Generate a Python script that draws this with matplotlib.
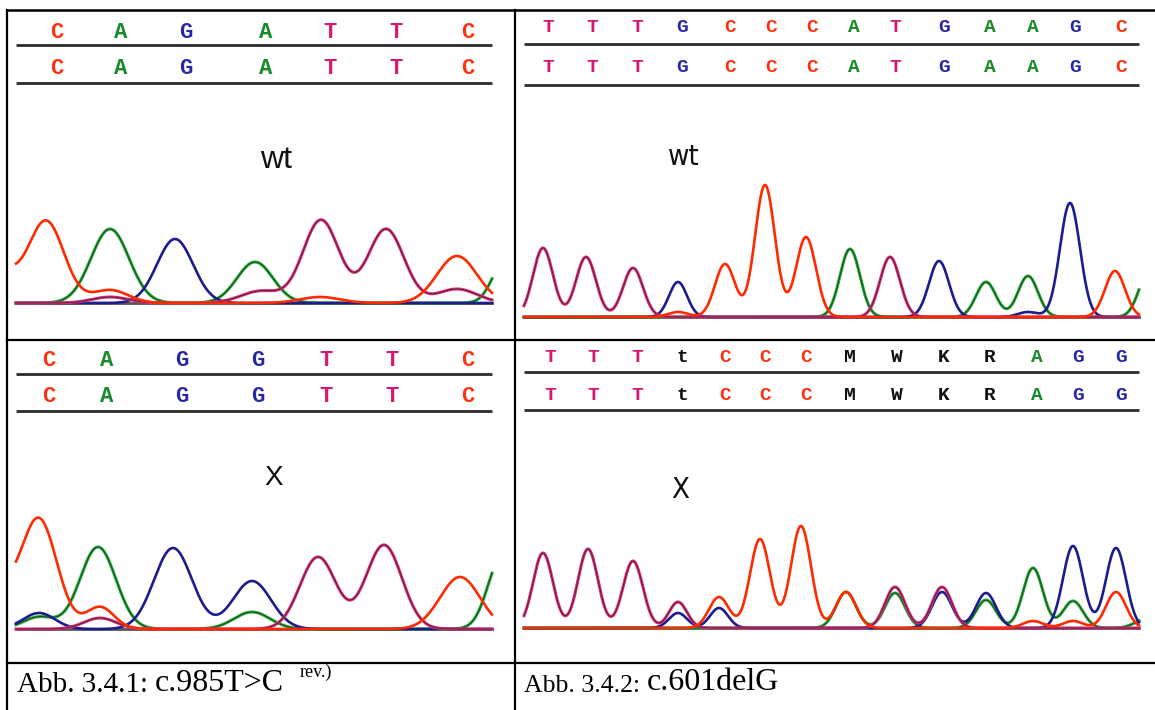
import numpy as np
import matplotlib.pyplot as plt

W, H = 1155, 710

# ---- Daten: Basen und Peaks (Position, Hoehe, Breite) je Panel ----
# Abb. 3.4.1 oben (wt)
tl_basen = ['C', 'A', 'G', 'A', 'T', 'T', 'C']
tl_basen_pos = [41, 105, 170, 250, 314, 380, 452]
tl_A = [(94, 74, 19), (239, 41, 18), (488, 40, 12)]
tl_C = [(-22, 40, 18), (30, 82, 18), (94, 13, 18), (304, 6, 20), (441, 47, 20)]
tl_G = [(159, 64, 18)]
tl_T = [(94, 6, 18), (245, 12, 20), (305, 83, 18), (370, 74, 18), (441, 14, 20)]

# Abb. 3.4.1 unten (X)
bl_basen = ['C', 'A', 'G', 'G', 'T', 'T', 'C']
bl_basen_pos = [33, 91, 166, 242, 310, 376, 452]
bl_A = [(23, 12, 16), (82, 82, 18), (236, 17, 18), (486, 72, 14)]
bl_C = [(-26, 45, 20), (23, 109, 18), (84, 22, 14), (444, 52, 20)]
bl_G = [(23, 16, 16), (157, 81, 19), (236, 48, 19)]
bl_T = [(84, 11, 16), (302, 72, 18), (368, 84, 18)]

# Abb. 3.4.2 oben (wt)
tr_basen = ['T', 'T', 'T', 'G', 'C', 'C', 'C', 'A', 'T', 'G', 'A', 'A', 'G', 'C']
tr_basen_pos = [24, 68, 113, 158, 206, 247, 288, 330, 371, 420, 466, 509, 551, 597]
tr_A = [(326, 68, 10), (462, 35, 10), (504, 41, 10), (625, 45, 10)]
tr_C = [(154, 5, 10), (201, 53, 10), (241, 132, 10), (282, 80, 10), (591, 46, 10)]
tr_G = [(154, 35, 9), (415, 56, 10), (504, 5, 10), (546, 114, 10)]
tr_T = [(19, 69, 10), (62, 60, 10), (109, 49, 10), (366, 60, 10)]

# Abb. 3.4.2 unten (X)
br_basen = ['T', 'T', 'T', 't', 'C', 'C', 'C', 'M', 'W', 'K', 'R', 'A', 'G', 'G']
br_basen_pos = [26, 69, 113, 158, 201, 241, 282, 326, 373, 420, 466, 513, 554, 597]
br_A = [(322, 36, 10), (371, 35, 10), (462, 28, 10), (509, 60, 10), (549, 27, 10), (620, 8, 10)]
br_C = [(195, 31, 10), (236, 89, 10), (277, 102, 10), (322, 36, 10), (509, 7, 10),
        (549, 7, 10), (592, 36, 10)]
br_G = [(154, 15, 9), (195, 20, 9), (418, 36, 10), (462, 35, 10), (549, 82, 10), (592, 80, 10)]
br_T = [(19, 75, 10), (64, 79, 10), (109, 67, 10), (154, 26, 9), (371, 41, 10), (418, 41, 10)]

caption_1 = ['Abb. 3.4.1: ', 'c.985T>C', 'rev.)']
caption_2 = ['Abb. 3.4.2: ', 'c.601delG']

farbe = {'A': '#23a834', 'C': '#ff2a00', 'G': '#1c1c8c', 'T': '#dc2c78'}
schrift = {'A': '#1a8a2a', 'C': '#ff3010', 'G': '#2626a6', 'T': '#d81870'}


def spur(x, peaks):
    y = np.zeros_like(x)
    for m, h, s in peaks:
        y += h * np.exp(-0.5 * ((x - m) / s) ** 2)
    return y


def panel(cell, x0, x1, base, rows, lines, basen, pos, spuren, label, lab_xy,
          fs_bas, lab_font):
    cx0, cy0, cx1, cy1 = cell
    ax = fig.add_axes([cx0 / W, 1 - cy1 / H, (cx1 - cx0) / W, (cy1 - cy0) / H])
    ax.set_xlim(cx0 - x0, cx1 - x0)
    ax.set_ylim(base - cy1, base - cy0)
    ax.axis('off')
    n = x1 - x0
    for ly in lines:
        ax.plot([0, n], [base - ly, base - ly], color='#2b2b2b', lw=2.0,
                solid_capstyle='butt')
    for ry in rows:
        for b, p in zip(basen, pos):
            ax.text(p, base - ry, b, color=schrift.get(b, '#111111'),
                    fontsize=fs_bas, fontweight='bold', family='Liberation Mono',
                    ha='center', va='center')
    ax.text(lab_xy[0], base - lab_xy[1], label, fontsize=lab_font[0],
            family=lab_font[1], fontstretch=lab_font[2], ha='center', va='center',
            color='#111111')
    x = np.linspace(0, n, 1200)
    ax.plot([0, n], [0, 0], color='#555555', lw=2.0)
    for k in ['A', 'G', 'T', 'C']:
        y = spur(x, spuren[k])
        if k in ('A', 'T'):
            ax.plot(x, y, color=farbe[k], lw=2.2)
            ax.plot(x, y, color='#202020', lw=0.6, alpha=0.8)
        else:
            ax.plot(x, y, color=farbe[k], lw=1.9)
    return ax


fig = plt.figure(figsize=(W / 100, H / 100), dpi=100)

# Rahmen der Tabelle
bg = fig.add_axes([0, 0, 1, 1])
bg.set_xlim(0, W)
bg.set_ylim(H, 0)
bg.axis('off')
bg.plot([7, W], [10, 10], color='black', lw=1.8)
bg.plot([7, W], [340, 340], color='black', lw=1.6)
bg.plot([7, W], [663, 663], color='black', lw=1.6)
bg.plot([7, 7], [10, H], color='black', lw=1.6)
bg.plot([515, 515], [10, H], color='black', lw=1.6)

panel((8, 11, 514, 339), 16, 492, 303, [32, 68], [45, 83], tl_basen, tl_basen_pos,
      {'A': tl_A, 'C': tl_C, 'G': tl_G, 'T': tl_T}, 'wt', (260, 160), 16,
      (23, 'Liberation Sans', 'normal'))
panel((8, 341, 514, 662), 16, 492, 629, [360, 396], [374, 411], bl_basen, bl_basen_pos,
      {'A': bl_A, 'C': bl_C, 'G': bl_G, 'T': bl_T}, 'X', (258, 478), 16,
      (20, 'Liberation Sans', 'normal'))
panel((516, 11, 1155, 339), 524, 1139, 317, [28, 68], [44, 85], tr_basen, tr_basen_pos,
      {'A': tr_A, 'C': tr_C, 'G': tr_G, 'T': tr_T}, 'wt', (160, 157), 14,
      (21, 'DejaVu Sans', 'condensed'))
panel((516, 341, 1155, 662), 524, 1139, 628, [358, 395], [372, 410], br_basen, br_basen_pos,
      {'A': br_A, 'C': br_C, 'G': br_G, 'T': br_T}, 'X', (156, 490), 14,
      (21, 'DejaVu Sans', 'condensed'))

# Bildunterschriften
t1 = bg.text(17, 692, caption_1[0], fontsize=21, family='Liberation Serif',
             ha='left', va='baseline')
t2 = bg.annotate(caption_1[1], xy=(1, 0), xycoords=t1, fontsize=23,
                 family='Liberation Serif', ha='left', va='bottom')
bg.annotate(caption_1[2], xy=(1, 1), xycoords=t2, xytext=(11, 4),
            textcoords='offset points', fontsize=13, family='Liberation Serif',
            ha='left', va='top')
t3 = bg.text(524, 692, caption_2[0], fontsize=18.5, family='Liberation Serif',
             ha='left', va='baseline')
bg.annotate(caption_2[1], xy=(1, 0), xycoords=t3, fontsize=23,
            family='Liberation Serif', ha='left', va='bottom')

plt.savefig('out.png', dpi=100)
